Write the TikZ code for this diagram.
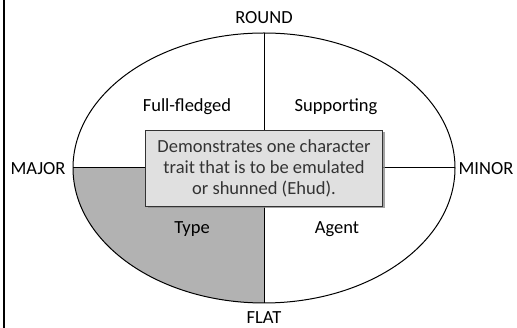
\documentclass[tikz,border=0pt]{standalone}
\usepackage{fontspec}
\setmainfont{Carlito}
\usetikzlibrary{shadows}
\definecolor{charGray}{HTML}{B2B2B2}
\definecolor{charBox}{HTML}{E0E0E0}
\definecolor{charEdge}{HTML}{333333}
\tikzset{
  char diagram/.style={
    line width=1pt,
    every node/.style={font=\fontsize{18.5}{21}\selectfont,
      text=black, inner sep=0pt, outer sep=0pt}
  },
  char note/.style={fill=charBox, draw=charEdge, line width=0.8pt,
    align=center, text=black!80, minimum width=237pt, minimum height=76pt,
    drop shadow={shadow xshift=2.5pt, shadow yshift=-2.5pt, fill=black!45,
      opacity=0.8}}
}

\begin{document}
\begin{tikzpicture}[char diagram,x=1pt,y=-1pt]
    \useasboundingbox (0,0) rectangle (517,328);
    \draw[line width=2pt] (3.5,0) -- (3.5,328);
    % quadrants
    \fill[charGray] (264,168) -- (73,168) arc[start angle=180, end angle=90,
      x radius=191, y radius=135] -- cycle;
    \draw (264,168) ellipse[x radius=191, y radius=135];
    \coordinate (top) at (264,33);
    \coordinate (bot) at (264,303);
    \coordinate (lft) at (73,168);
    \coordinate (rgt) at (455,168);
    \draw (top) -- (bot);
    \draw (lft) -- (rgt);
    \node[char note] (note) at (264,168)
      {Demonstrates one character\\trait that is to be emulated\\or shunned (Ehud).};
    % axis labels
    \node (round) at (264,18) {ROUND};
    \node (flat) at (264,318) {FLAT};
    \node (major) at (38,169) {MAJOR};
    \node (minor) at (486,169) {MINOR};
    % kinds
    \node (full) at (187,107) {Full-fledged};
    \node (supp) at (336,107) {Supporting};
    \node (type) at (192,229) {Type};
    \node (agent) at (337,229) {Agent};
\end{tikzpicture}
\end{document}
